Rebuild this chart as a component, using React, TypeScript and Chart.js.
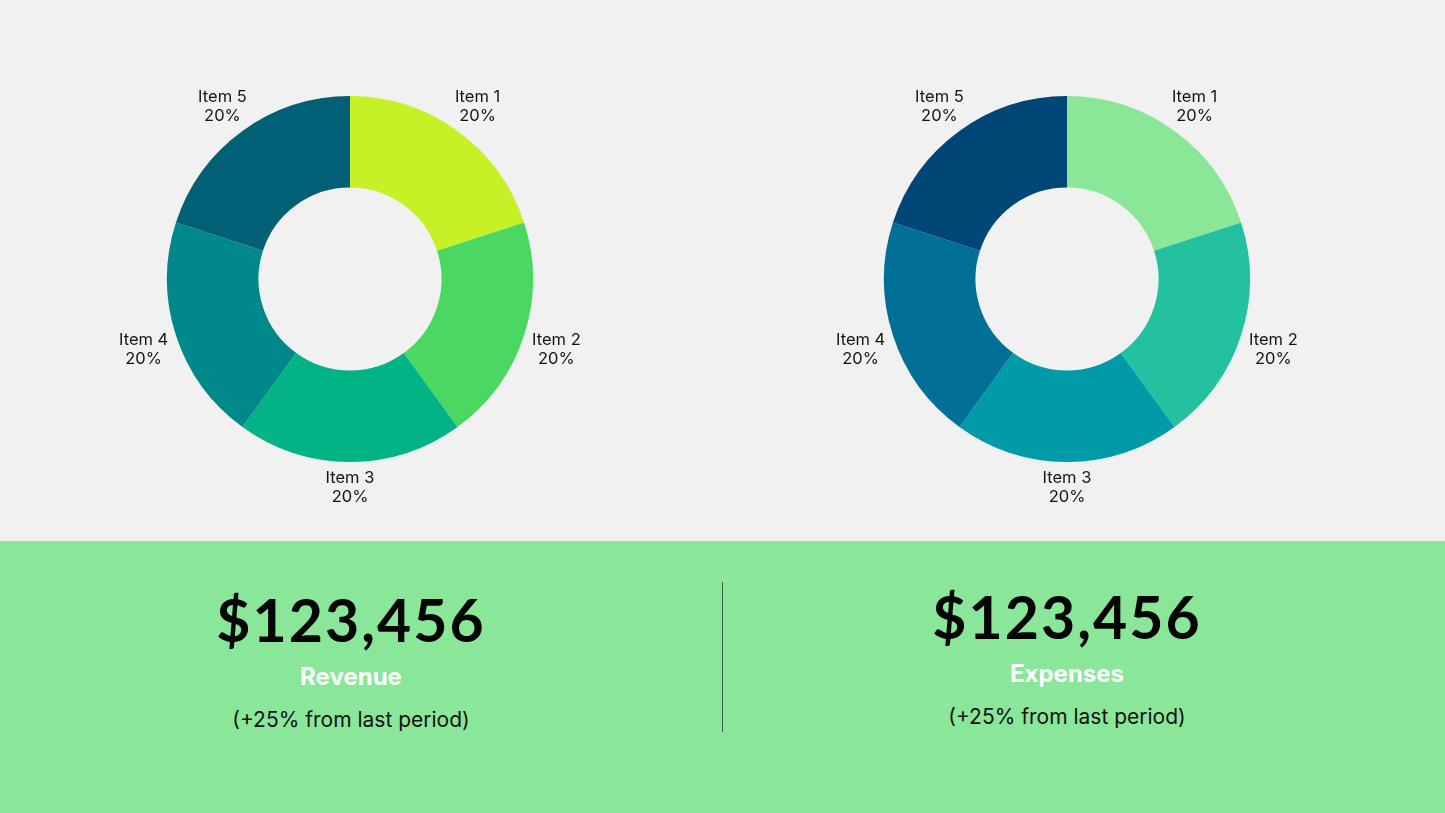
import React, { useEffect, useRef } from "react";
import { Chart, registerables } from "chart.js";

Chart.register(...registerables);

const categories = ["Item 1", "Item 2", "Item 3", "Item 4", "Item 5"];
const revenueShares = [20, 20, 20, 20, 20];
const expenseShares = [20, 20, 20, 20, 20];
const revenueColors = ["#c6f127", "#4ad862", "#02b386", "#00888b", "#015f76"];
const expenseColors = ["#8ae797", "#24c1a0", "#009ba7", "#016f96", "#004677"];

const revenueTotal = "$123,456";
const expenseTotal = "$123,456";
const changeNote = "(+25% from last period)";

// Draws "Item N / xx%" outside each slice, kept inside the canvas.
const outsideLabels = {
  id: "outsideLabels",
  afterDatasetsDraw(chart: any) {
    const { ctx } = chart;
    const meta = chart.getDatasetMeta(0);
    const data = chart.data.datasets[0].data as number[];
    const total = data.reduce((a, b) => a + b, 0);
    ctx.save();
    ctx.font = "16.5px Inter";
    ctx.fillStyle = "#141414";
    ctx.textAlign = "center";
    ctx.textBaseline = "middle";
    const lineH = 19;
    meta.data.forEach((arc: any, i: number) => {
      const mid = (arc.startAngle + arc.endAngle) / 2;
      const r = arc.outerRadius + 34;
      const x = arc.x + Math.cos(mid) * r;
      let y = arc.y + Math.sin(mid) * r + 3;
      const maxY = chart.height - lineH + 1;
      if (y > maxY) y = maxY;
      if (y < lineH) y = lineH;
      const pct = Math.round((data[i] / total) * 100) + "%";
      ctx.fillText(String(chart.data.labels[i]), x, y - lineH / 2);
      ctx.fillText(pct, x, y + lineH / 2);
    });
    ctx.restore();
  },
};

function Donut({ values, colors, left }: { values: number[]; colors: string[]; left: number }) {
  const ref = useRef<HTMLCanvasElement>(null);
  useEffect(() => {
    const chart = new Chart(ref.current!, {
      type: "doughnut",
      data: {
        labels: categories,
        datasets: [
          {
            data: values,
            backgroundColor: colors,
            borderWidth: 0,
          },
        ],
      },
      options: {
        animation: false,
        responsive: false,
        maintainAspectRatio: false,
        cutout: "50%",
        layout: { padding: { top: 96, bottom: 44, left: 0, right: 0 } },
        plugins: { legend: { display: false }, tooltip: { enabled: false } },
      },
      plugins: [outsideLabels],
    });
    return () => chart.destroy();
  }, []);
  return (
    <canvas
      ref={ref}
      width={700}
      height={506}
      style={{ position: "absolute", left, top: 0, width: 700, height: 506 }}
    />
  );
}

function Line({ cx, cy, h, style, children }: { cx: number; cy: number; h: number; style: any; children: any }) {
  return (
    <div
      style={{
        position: "absolute",
        left: cx - 300,
        width: 600,
        top: cy - h / 2,
        height: h,
        lineHeight: h + "px",
        textAlign: "center",
        whiteSpace: "nowrap",
        ...style,
      }}
    >
      {children}
    </div>
  );
}

const bigStyle = { fontFamily: "Lato", fontWeight: 700, fontSize: 59, color: "#050505", letterSpacing: 2 };
const labelStyle = { fontFamily: "Inter", fontWeight: 700, fontSize: 24, color: "#ffffff" };
const noteStyle = { fontFamily: "Inter", fontWeight: 400, fontSize: 21, color: "#121212" };

function Stat({ value, label, note, cx, cy }: { value: string; label: string; note: string; cx: number; cy: number }) {
  return (
    <>
      <Line cx={cx} cy={cy} h={70} style={bigStyle}>{value}</Line>
      <Line cx={cx} cy={cy + 57} h={30} style={labelStyle}>{label}</Line>
      <Line cx={cx} cy={cy + 100} h={30} style={noteStyle}>{note}</Line>
    </>
  );
}

export default function App() {
  return (
    <div
      style={{
        position: "fixed",
        left: 0,
        top: 0,
        width: 1445,
        height: 813,
        background: "#f1f1f1",
        overflow: "hidden",
      }}
    >
      <Donut values={revenueShares} colors={revenueColors} left={0} />
      <Donut values={expenseShares} colors={expenseColors} left={717} />
      <div style={{ position: "absolute", left: 0, top: 541, width: 1445, height: 272, background: "#8ae799" }} />
      <div style={{ position: "absolute", left: 722, top: 582, width: 1, height: 150, background: "#3f5e45" }} />
      <Stat value={revenueTotal} label="Revenue" note={changeNote} cx={351} cy={620} />
      <Stat value={expenseTotal} label="Expenses" note={changeNote} cx={1067} cy={617} />
    </div>
  );
}
